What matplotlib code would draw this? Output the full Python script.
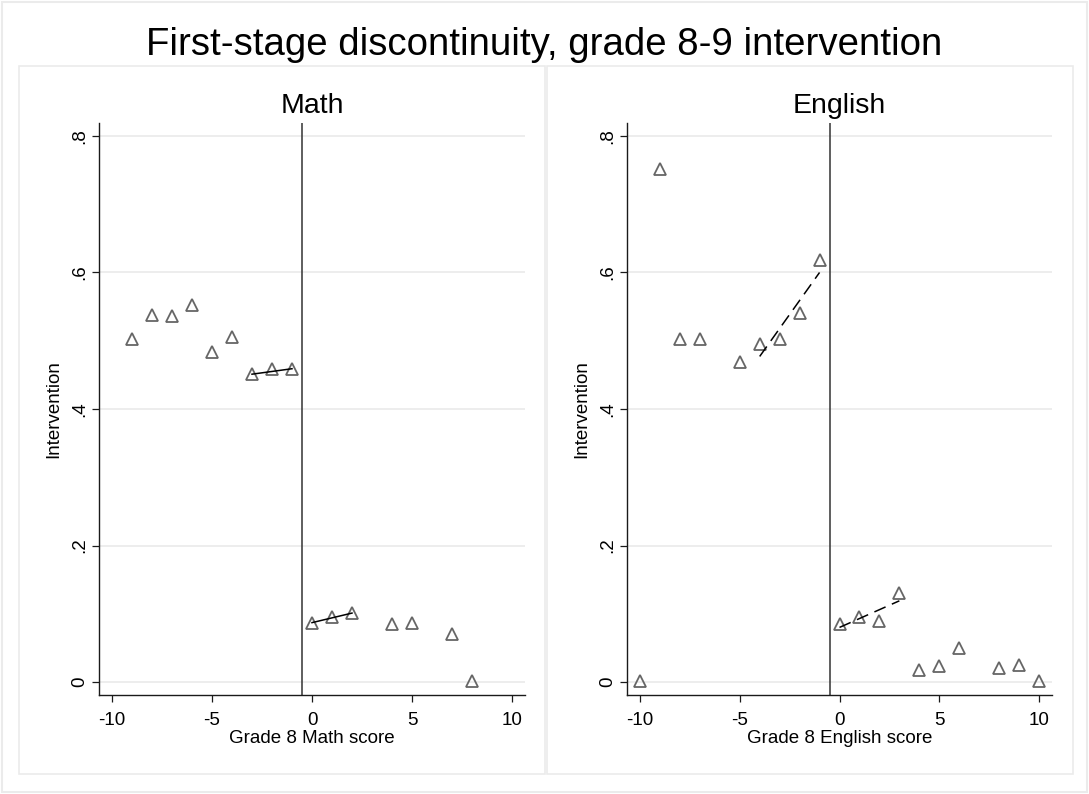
import matplotlib
matplotlib.use("Agg")
import matplotlib.pyplot as plt
from matplotlib.patches import Rectangle

plt.rcParams['font.family'] = ['Liberation Sans', 'DejaVu Sans']

# ---- data ----
math_x = [-9, -8, -7, -6, -5, -4, -3, -2, -1, 0, 1, 2, 4, 5, 7, 8]
math_y = [0.502, 0.538, 0.536, 0.553, 0.483, 0.505, 0.452, 0.459, 0.458,
          0.087, 0.095, 0.101, 0.085, 0.087, 0.071, 0.001]
math_fit_left_x = [-3, -1]
math_fit_left_y = [0.451, 0.459]
math_fit_right_x = [0, 2]
math_fit_right_y = [0.087, 0.101]

eng_x = [-10, -9, -8, -7, -5, -4, -3, -2, -1, 0, 1, 2, 3, 4, 5, 6, 8, 9, 10]
eng_y = [0.001, 0.752, 0.502, 0.502, 0.469, 0.495, 0.502, 0.540, 0.619,
         0.085, 0.096, 0.090, 0.130, 0.018, 0.024, 0.050, 0.020, 0.025, 0.001]
eng_fit_left_x = [-4, -1]
eng_fit_left_y = [0.477, 0.600]
eng_fit_right_x = [0, 3]
eng_fit_right_y = [0.080, 0.119]

cutoff = -0.5
xticks = [-10, -5, 0, 5, 10]
xtick_labels = ['-10', '-5', '0', '5', '10']
yticks = [0, 0.2, 0.4, 0.6, 0.8]
ytick_labels = ['0', '.2', '.4', '.6', '.8']

title = "First-stage discontinuity, grade 8-9 intervention"
panels = [
    ("Math", "Grade 8 Math score", math_x, math_y,
     (math_fit_left_x, math_fit_left_y), (math_fit_right_x, math_fit_right_y), '-'),
    ("English", "Grade 8 English score", eng_x, eng_y,
     (eng_fit_left_x, eng_fit_left_y), (eng_fit_right_x, eng_fit_right_y), (0, (8, 4.5))),
]

W, H = 1089, 794
fig = plt.figure(figsize=(W / 100, H / 100), dpi=100)
fig.patch.set_facecolor('white')

def px_rect(x0, y0, x1, y1, **kw):
    fig.patches.append(Rectangle((x0 / W, 1 - y1 / H), (x1 - x0) / W, (y1 - y0) / H,
                                 transform=fig.transFigure, fill=False, **kw))

frame_col = '#ebebeb'
px_rect(2, 1.5, 1087, 792, edgecolor=frame_col, lw=1.5)
px_rect(19, 66, 545, 774, edgecolor=frame_col, lw=1.2)
px_rect(547, 66, 1073, 774, edgecolor=frame_col, lw=1.2)

fig.text(0.5, 1 - 55 / H, title, ha='center', va='baseline', fontsize=27.6)

axes_px = [(99, 525), (627, 1052)]
top_px, bot_px = 123, 695
for (x0, x1), (ptitle, xlabel, xs, ys, fl, fr, ls) in zip(axes_px, panels):
    ax = fig.add_axes([x0 / W, 1 - bot_px / H, (x1 - x0) / W, (bot_px - top_px) / H])
    ax.set_xlim(-10.65, 10.65)
    ax.set_ylim(-0.019, 0.819)
    ax.set_yticks(yticks)
    ax.set_yticklabels(ytick_labels, rotation=90, va='center')
    ax.set_xticks(xticks)
    ax.set_xticklabels(xtick_labels)
    ax.grid(axis='y', color='#e8e8e8', lw=1.1)
    ax.set_axisbelow(True)
    for s in ['top', 'right']:
        ax.spines[s].set_visible(False)
    for s in ['left', 'bottom']:
        ax.spines[s].set_color('#1a1a1a')
        ax.spines[s].set_linewidth(1.0)
    ax.tick_params(axis='both', direction='out', length=5, width=0.9,
                   color='#1a1a1a', labelsize=13.5)
    ax.tick_params(axis='x', pad=7)
    ax.tick_params(axis='y', pad=3)
    ax.axvline(cutoff, color='#333333', lw=1.1, zorder=2)
    ax.plot(xs, ys, linestyle='none', marker='^', ms=8.5, mfc='none',
            mec='#666666', mew=1.3, zorder=3)
    ax.plot(fl[0], fl[1], color='black', lw=1.1, linestyle=ls, zorder=4)
    ax.plot(fr[0], fr[1], color='black', lw=1.1, linestyle=ls, zorder=4)
    ax.set_title(ptitle, fontsize=20.5, pad=7)
    ax.set_xlabel(xlabel, fontsize=13.5, labelpad=1)
    ax.set_ylabel("Intervention", fontsize=13.5, labelpad=6)

fig.savefig("out.png", dpi=100, facecolor='white')
